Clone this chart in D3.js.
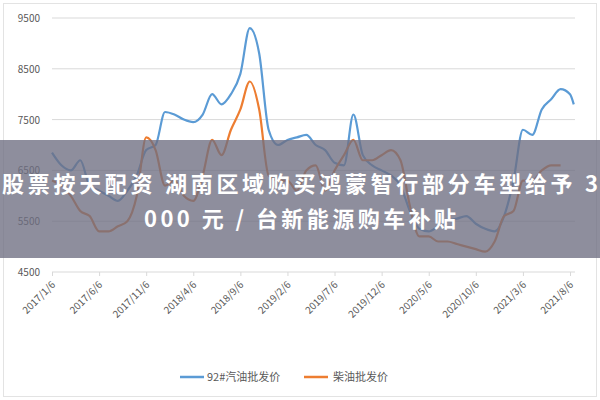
<!DOCTYPE html><html><head><meta charset="utf-8"><script src="https://cdn.jsdelivr.net/npm/d3@7"></script>
<style>body{margin:0;background:#fff}</style></head><body><svg id="c" width="600" height="400"></svg>
<script>
const tickLabels = ["2017/1/6","2017/6/6","2017/11/6","2018/4/6","2018/9/6","2019/2/6","2019/7/6","2019/12/6","2020/5/6","2020/10/6","2021/3/6","2021/8/6"];
const gasMonths = [0,1,2,3,4,5,6,7,8,9,10,11,12,13,14,15,16,17,18,19,20,21,22,23,24,25,26,27,28,29,30,31,32,33,34,35,36,37,38,39,40,41,42,43,44,45,46,47,48,49,50,51,52,53,54,55,55.4];
const gasoline = [6850,6600,6500,6700,6200,6100,6000,5900,6100,6400,6900,7000,7650,7600,7500,7450,7600,8000,7800,8000,8400,9300,8800,7300,7000,7100,7150,7200,7000,6900,6650,6600,7600,6800,6600,6500,6400,6200,5700,5350,5300,5400,5500,5550,5600,5450,5350,5300,5600,6300,7300,7200,7700,7900,8100,8000,7800];
const dieselMonths = [0,1,2,3,4,5,6,7,8,9,10,11,12,13,14,15,16,17,18,19,20,21,22,23,24,25,26,27,28,29,30,31,32,33,34,35,36,37,38,39,40,41,42,43,44,45,46,47,48,49,50,51,52,53,54];
const diesel = [6300,6200,6000,5700,5600,5300,5300,5400,5500,6000,7150,6900,6200,6300,6000,5900,6400,7100,6800,7300,7700,8250,7700,6400,6300,6300,6100,6500,6600,6100,6500,6800,7100,6700,6700,6800,6900,6700,5800,5200,5200,5100,5100,5050,5000,4950,4900,5100,5600,5700,6300,6300,6500,6600,6600];
const yTicks = [4500,5500,6500,7500,8500,9500];
const seriesNames = ["92#汽油批发价","柴油批发价"];
const colors = ["#5b9bd5","#ed7d31"];
const title1 = "股票按天配资 湖南区域购买鸿蒙智行部分车型给予 3";
const title2 = "000 元 / 台新能源购车补贴";

const svg = d3.select("#c");
svg.append("rect").attr("x",3.5).attr("y",3.5).attr("width",593).attr("height",393).attr("fill","#fff").attr("stroke","#e3e3e3");
const x = d3.scaleLinear().domain([0,55]).range([52,570]);
const y = d3.scaleLinear().domain([4500,9500]).range([272,18]);
const font = "'Microsoft YaHei','Noto Sans CJK SC',sans-serif";
svg.append("g").selectAll("line").data(yTicks.slice(1)).join("line")
 .attr("x1",52).attr("x2",575).attr("y1",d=>y(d)).attr("y2",d=>y(d)).attr("stroke","#d9d9d9");
svg.append("g").selectAll("text").data(yTicks).join("text").attr("x",40).attr("y",d=>y(d)+4)
 .attr("text-anchor","end").attr("font-size",10).attr("fill","#595959").attr("font-family",font).text(d=>d);
const ax = d3.axisBottom(x).tickValues(d3.range(0,56,5)).tickFormat((d,i)=>tickLabels[i]).tickSize(4).tickSizeOuter(0);
const g = svg.append("g").attr("transform","translate(0,272)").call(ax);
g.select(".domain").attr("stroke","#d9d9d9").attr("d","M52,0H575");
g.selectAll(".tick line").attr("stroke","#d9d9d9");
g.selectAll(".tick text").attr("transform","translate(-4,6) rotate(-45)").attr("text-anchor","end").attr("dy","0.35em").attr("font-size",10).attr("fill","#595959").attr("font-family",font);
const line = d3.line().x(d=>x(d[0])).y(d=>y(d[1])).curve(d3.curveMonotoneX);
[[gasMonths,gasoline],[dieselMonths,diesel]].forEach((s,i)=>{
 svg.append("path").datum(d3.zip(s[0],s[1])).attr("d",line).attr("fill","none").attr("stroke",colors[i]).attr("stroke-width",2.2);
});
const lg = [[180,207],[304,333]];
seriesNames.forEach((n,i)=>{
 svg.append("line").attr("x1",lg[i][0]).attr("x2",lg[i][0]+24).attr("y1",377).attr("y2",377).attr("stroke",colors[i]).attr("stroke-width",2.5);
 svg.append("text").attr("x",lg[i][1]).attr("y",381).attr("font-size",11).attr("fill","#595959").attr("font-family",font).text(n);
});
svg.append("rect").attr("x",0).attr("y",140).attr("width",600).attr("height",118).attr("fill","rgba(110,110,130,0.78)");
[[title1,192,596],[title2,227,312]].forEach(t=>svg.append("text").attr("x",300).attr("y",t[1]).attr("text-anchor","middle").attr("font-size",22).attr("font-weight","bold")
 .attr("textLength",t[2]).attr("lengthAdjust","spacing").attr("fill","#fff").attr("font-family","'Noto Sans CJK SC',sans-serif").text(t[0]));
</script></body></html>
